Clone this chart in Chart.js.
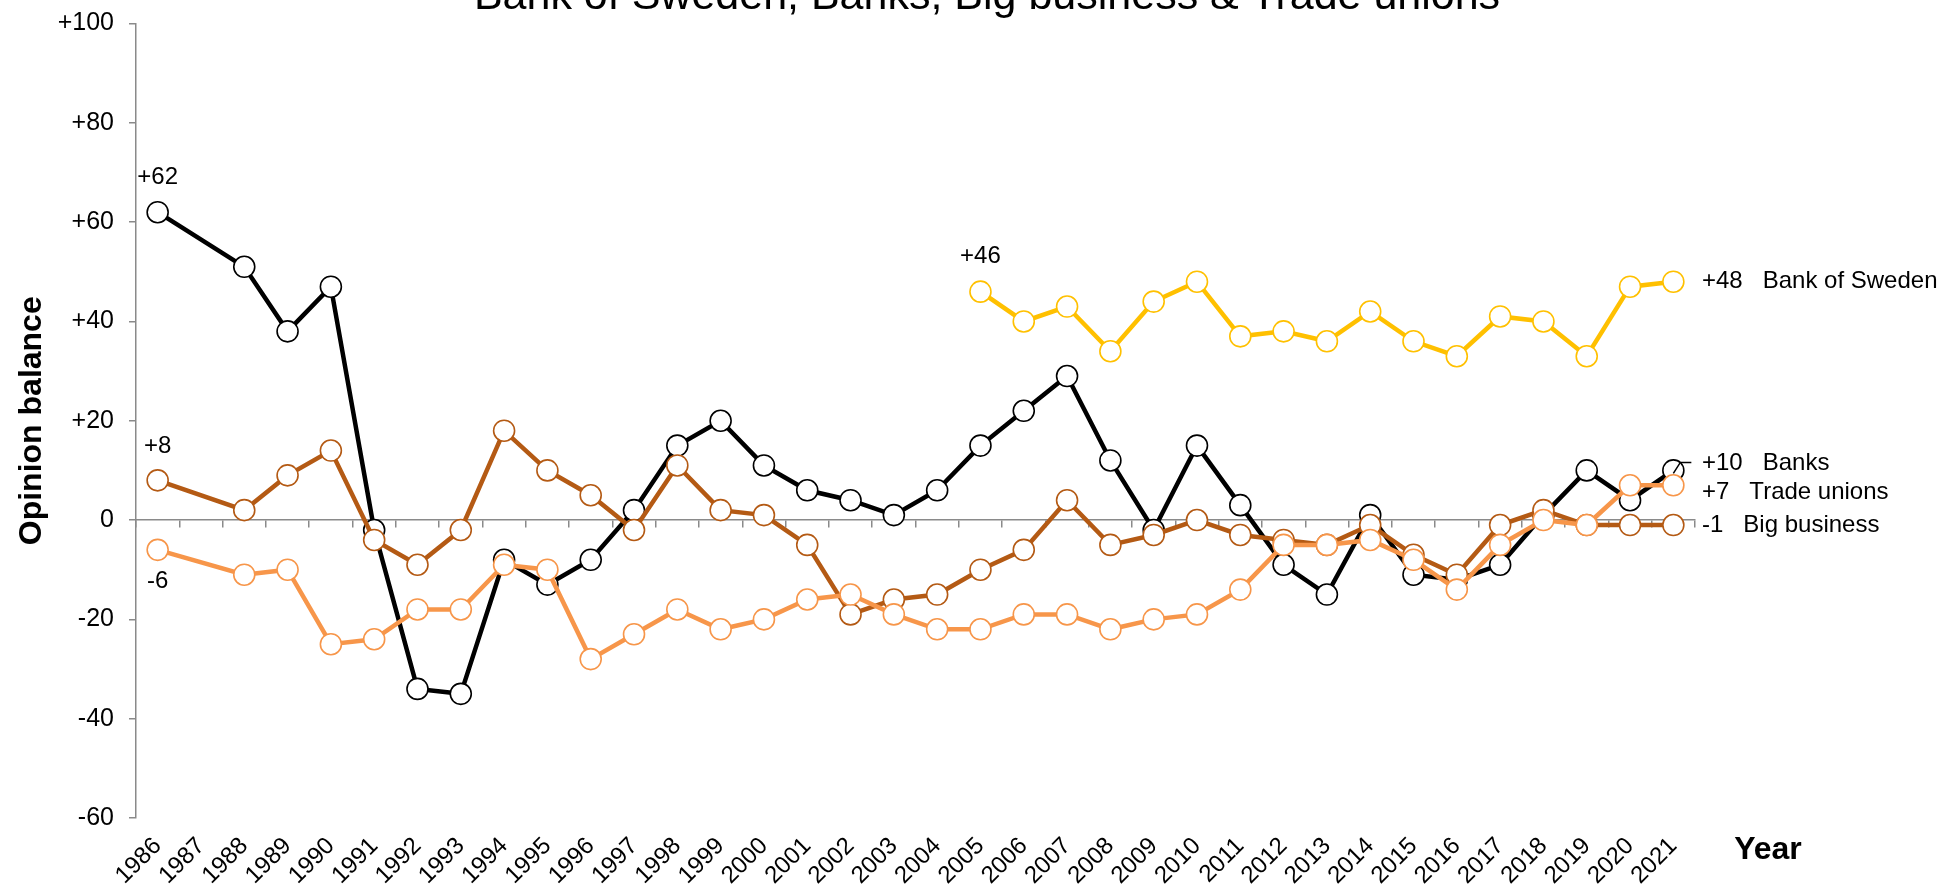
<!DOCTYPE html>
<html>
<head>
<meta charset="utf-8">
<title>Opinion balance</title>
<script src="https://cdn.jsdelivr.net/npm/chart.js@4.4.1/dist/chart.umd.min.js"></script>
<style>
    html, body { margin: 0; padding: 0; background: #ffffff; }
    #wrap { position: relative; width: 1940px; height: 889px; }
</style>
</head>
<body>
<div id="wrap"><canvas id="opinionChart"></canvas></div>
<script>
// Dados (1987 sem medição)
const years = ['1986', '1987', '1988', '1989', '1990', '1991', '1992', '1993', '1994', '1995',
    '1996', '1997', '1998', '1999', '2000', '2001', '2002', '2003', '2004', '2005', '2006',
    '2007', '2008', '2009', '2010', '2011', '2012', '2013', '2014', '2015', '2016', '2017',
    '2018', '2019', '2020', '2021'];

const banks = [62, null, 51, 38, 47, -2, -34, -35, -8, -13, -8, 2, 15, 20, 11, 6, 4, 1, 6,
    15, 22, 29, 12, -2, 15, 3, -9, -15, 1, -11, -12, -9, 1, 10, 4, 10];

const bigBusiness = [8, null, 2, 9, 14, -4, -9, -2, 18, 10, 5, -2, 11, 2, 1, -5, -19, -16, -15,
    -10, -6, 4, -5, -3, 0, -3, -4, -5, -1, -7, -11, -1, 2, -1, -1, -1];

const tradeUnions = [-6, null, -11, -10, -25, -24, -18, -18, -9, -10, -28, -23, -18, -22, -20,
    -16, -15, -19, -22, -22, -19, -19, -22, -20, -19, -14, -5, -5, -4, -8, -14, -5, 0, -1, 7, 7];

const bankOfSweden = [null, null, null, null, null, null, null, null, null, null, null, null,
    null, null, null, null, null, null, null, 46, 40, 43, 34, 44, 48, 37, 38, 36, 42, 36, 33,
    41, 40, 33, 47, 48];

const yTicks = [-60, -40, -20, 0, 20, 40, 60, 80, 100];

const FONT = "'Liberation Sans', Arial, sans-serif";
const AXIS_GRAY = '#8a8a8a';

Chart.defaults.font.family = FONT;
Chart.defaults.color = '#000000';

function signed(v) {
    return v > 0 ? '+' + v : String(v);
}

function series(label, data, color) {
    return {
        label: label,
        data: data,
        borderColor: color,
        backgroundColor: color,
        borderWidth: 4.5,
        pointRadius: 10.5,
        pointBorderWidth: 1.6,
        pointBackgroundColor: '#ffffff',
        pointBorderColor: color,
        spanGaps: true,
        tension: 0
    };
}

// Rótulos de texto: título, "Year", valores iniciais e finais
const notesPlugin = {
    id: 'notes',
    afterDatasetsDraw(chart) {
        const { ctx, chartArea } = chart;
        const x = chart.scales.x;
        const y = chart.scales.y;
        const last = years.length - 1;

        ctx.save();
        ctx.fillStyle = '#000000';

        // título (cortado no topo, como no original)
        ctx.font = '43px ' + FONT;
        ctx.textAlign = 'center';
        ctx.textBaseline = 'alphabetic';
        ctx.fillText('Bank of Sweden, Banks, Big business & Trade unions', chart.width / 2 + 17, 9);

        // rótulos de início de série
        ctx.font = '24px ' + FONT;
        ctx.textBaseline = 'middle';
        const startNote = (data, idx, dy) => {
            ctx.fillText(signed(data[idx]), x.getPixelForValue(idx), y.getPixelForValue(data[idx]) + dy);
        };
        startNote(banks, 0, -35);
        startNote(bigBusiness, 0, -34);
        startNote(tradeUnions, 0, 32);
        startNote(bankOfSweden, bankOfSweden.findIndex(v => v !== null), -35);

        // rótulos de fim de série
        ctx.textAlign = 'left';
        const endX = chartArea.right + 7;
        const endNote = (data, name, dy) => {
            ctx.fillText(signed(data[last]) + '   ' + name, endX, y.getPixelForValue(data[last]) + dy);
        };
        endNote(bankOfSweden, 'Bank of Sweden', 0);
        endNote(banks, 'Banks', -7);
        endNote(tradeUnions, 'Trade unions', 7);
        endNote(bigBusiness, 'Big business', 0);

        // linha guia curta para "Banks"
        const bx = x.getPixelForValue(last);
        const by = y.getPixelForValue(banks[last]);
        ctx.strokeStyle = '#000000';
        ctx.lineWidth = 1.5;
        ctx.beginPath();
        ctx.moveTo(bx, by + 3);
        ctx.lineTo(bx + 7, by - 8);
        ctx.lineTo(bx + 18, by - 8);
        ctx.stroke();

        // título do eixo x
        ctx.font = 'bold 32px ' + FONT;
        ctx.textAlign = 'center';
        ctx.textBaseline = 'alphabetic';
        ctx.fillText('Year', chartArea.right + 73, chartArea.bottom + 41);

        ctx.restore();
    }
};

const ctx = document.getElementById('opinionChart').getContext('2d');
const opinionChart = new Chart(ctx, {
    type: 'line',
    data: {
        labels: years,
        // primeiro conjunto fica por cima
        datasets: [
            series('Trade unions', tradeUnions, '#f7964a'),
            series('Big business', bigBusiness, '#b45a14'),
            series('Banks', banks, '#000000'),
            series('Bank of Sweden', bankOfSweden, '#ffc000')
        ]
    },
    options: {
        responsive: true,
        maintainAspectRatio: false,
        animation: false,
        layout: {
            padding: { top: 23.5, right: 245, bottom: 0, left: 12.8 }
        },
        plugins: {
            legend: { display: false },
            tooltip: { enabled: false },
            title: { display: false }
        },
        scales: {
            x: {
                type: 'category',
                offset: true,
                grid: { display: false, drawTicks: false },
                border: { display: false },
                ticks: {
                    autoSkip: false,
                    minRotation: 45,
                    maxRotation: 45,
                    padding: 14,
                    color: '#000000',
                    font: { size: 24 }
                },
                afterFit: (scale) => {
                    scale.height = 71;
                    scale.paddingLeft = 0;
                    scale.paddingRight = 0;
                }
            },
            // eixo na linha do zero, só com as marcas
            xZero: {
                type: 'category',
                position: { y: 0 },
                offset: true,
                grid: {
                    offset: true,
                    drawOnChartArea: false,
                    drawTicks: true,
                    tickLength: 7,
                    color: AXIS_GRAY,
                    lineWidth: 1.5
                },
                border: { display: true, color: AXIS_GRAY, width: 1.5 },
                ticks: { display: false }
            },
            y: {
                min: yTicks[0],
                max: yTicks[yTicks.length - 1],
                afterBuildTicks: (scale) => {
                    scale.ticks = yTicks.map(v => ({ value: v }));
                },
                afterFit: (scale) => {
                    scale.width = 123.2;
                    scale.paddingTop = 0;
                    scale.paddingBottom = 0;
                },
                grid: {
                    drawOnChartArea: false,
                    drawTicks: true,
                    tickLength: 7,
                    color: AXIS_GRAY,
                    lineWidth: 1.5
                },
                border: { display: true, color: AXIS_GRAY, width: 1.5 },
                ticks: {
                    padding: 15,
                    color: '#000000',
                    font: { size: 25 },
                    callback: (v) => signed(v)
                },
                title: {
                    display: true,
                    text: 'Opinion balance',
                    color: '#000000',
                    font: { size: 32, weight: 'bold' },
                    padding: { top: 0, bottom: 6.5 }
                }
            }
        }
    },
    plugins: [notesPlugin]
});
</script>
</body>
</html>
